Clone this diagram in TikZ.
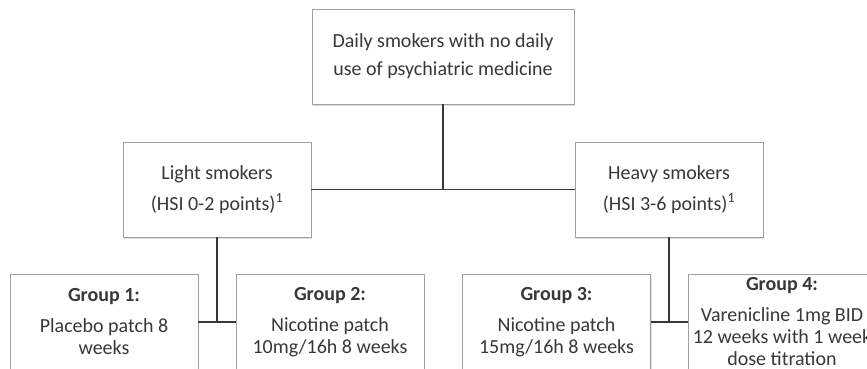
\documentclass[tikz,border=0pt]{standalone}
\usepackage{fontspec}
\setmainfont{Carlito}
\usetikzlibrary{shadows, calc}

\begin{document}
\begin{tikzpicture}[
      x=1pt, y=-1pt,
      box/.style={rectangle, draw=gray!75, line width=0.8pt, fill=white, align=center,
        text=black!78, minimum width=188pt, minimum height=95pt, inner sep=2pt,
        drop shadow={shadow xshift=1pt, shadow yshift=-2pt, opacity=0.25}},
      upper/.style={box, font=\fontsize{20}{31}\selectfont},
      group/.style={box, font=\fontsize{20}{22}\selectfont},
      link/.style={draw=black!78, line width=1.2pt}
    ]
      \useasboundingbox (0,0) rectangle (867,368);
      \clip (0,0) rectangle (867,368);
      % population and strata
      \node[upper, minimum width=262pt, font=\fontsize{20}{28}\selectfont] (daily) at (443,56.5)
        {Daily smokers with no daily\\use of psychiatric medicine};
      \node[upper] (light) at (217,189.5) {Light smokers\\(HSI 0-2 points)\textsuperscript{1}};
      \node[upper] (heavy) at (669,189.5) {Heavy smokers\\(HSI 3-6 points)\textsuperscript{1}};
      % treatment groups
      \node[group] (grp1) at (104,322) {\textbf{Group 1:}\\[9pt]Placebo patch 8\\weeks};
      \node[group] (grp2) at (330,322) {\textbf{Group 2:}\\[9pt]Nicotine patch\\10mg/16h 8 weeks};
      \node[group] (grp3) at (556.5,322) {\textbf{Group 3:}\\[9pt]Nicotine patch\\15mg/16h 8 weeks};
      \node[group] (grp4) at (782,322) {\textbf{Group 4:}\\[9pt]Varenicline 1mg BID\\12 weeks with 1 week\\dose titration};
      % connectors
      \draw[link] (light.east) -- (heavy.west);
      \draw[link] (daily.south) -- (daily.south |- light.east);
      \draw[link] (grp1.east) -- (grp2.west);
      \draw[link] (light.south) -- (light.south |- grp1.east);
      \draw[link] (grp3.east) -- (grp4.west);
      \draw[link] (heavy.south) -- (heavy.south |- grp3.east);
    \end{tikzpicture}
\end{document}
